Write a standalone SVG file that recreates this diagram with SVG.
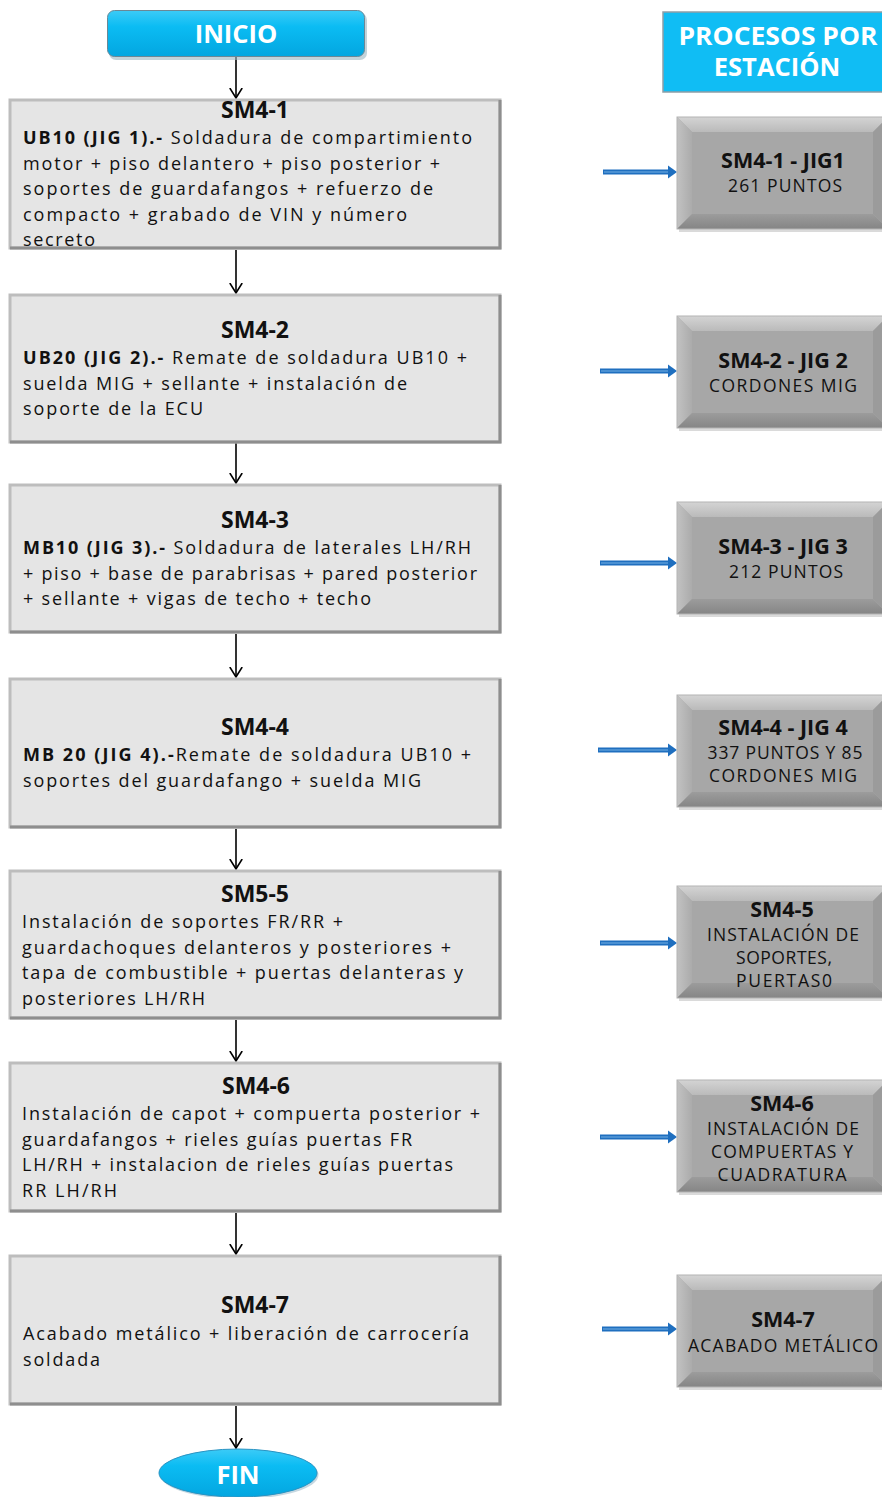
<svg xmlns="http://www.w3.org/2000/svg" xmlns:xlink="http://www.w3.org/1999/xlink" width="882" height="1497" viewBox="0 0 882 1497">
  <defs>
    <style>
      .txt { font-family: "Open Sans", "Liberation Sans", sans-serif; fill: #111; }
      .body { font-size: 18px; }
      .b { font-weight: bold; }
      .ttl { font-size: 23px; font-weight: bold; text-anchor: middle; }
      .rt { font-size: 21.5px; font-weight: bold; text-anchor: middle; }
      .rs { font-size: 17.5px; text-anchor: middle; }
      .cap { font-family: "Open Sans", "Liberation Sans", sans-serif; font-size: 25.5px; font-weight: bold; fill: #fff; text-anchor: middle; }
      .step { fill: #E5E5E5; stroke: #BDBDBD; stroke-width: 3; }
      .stepShade { fill: none; stroke: #8E8E8E; stroke-width: 3; }
      .flow { fill: none; stroke: #000; stroke-width: 1.6; marker-end: url(#vhead); }
      .feed { fill: none; stroke: #1F6FBF; stroke-width: 5; }
      .feedCore { fill: none; stroke: #5A9BD8; stroke-width: 1.6; }
    </style>
    <linearGradient id="cyan" x1="0" y1="0" x2="0" y2="1">
      <stop offset="0" stop-color="#3CCBF7"/>
      <stop offset="0.35" stop-color="#0BBCF3"/>
      <stop offset="1" stop-color="#03A6E0"/>
    </linearGradient>
    <linearGradient id="bevTop" x1="0" y1="0" x2="0" y2="1">
      <stop offset="0" stop-color="#D4D4D4"/>
      <stop offset="1" stop-color="#BABABA"/>
    </linearGradient>
    <linearGradient id="bevLeft" x1="0" y1="0" x2="1" y2="0">
      <stop offset="0" stop-color="#C2C2C2"/>
      <stop offset="1" stop-color="#ABABAB"/>
    </linearGradient>
    <linearGradient id="bevBottom" x1="0" y1="0" x2="0" y2="1">
      <stop offset="0" stop-color="#9C9C9C"/>
      <stop offset="1" stop-color="#858585"/>
    </linearGradient>
    <marker id="vhead" viewBox="0 0 12 14" refX="10.5" refY="7" markerWidth="12" markerHeight="14" markerUnits="userSpaceOnUse" orient="auto">
      <path d="M0.5,0.8 L10.5,7 L0.5,13.2" fill="none" stroke="#000" stroke-width="1.6"/>
    </marker>
    <!-- bevelled station tile, 211 x 112 -->
    <g id="tile">
      <rect x="2" y="3" width="211" height="112" fill="#DADADA"/>
      <rect x="0" y="0" width="211" height="112" fill="#A7A7A7"/>
      <polygon points="0,0 211,0 196,15 15,15" fill="url(#bevTop)"/>
      <polygon points="0,0 15,15 15,97 0,112" fill="url(#bevLeft)"/>
      <polygon points="0,112 15,97 196,97 211,112" fill="url(#bevBottom)"/>
      <polygon points="211,0 211,112 196,97 196,15" fill="#9B9B9B"/>
      <rect x="0" y="0" width="211" height="112" fill="none" stroke="#B4B4B4" stroke-width="1"/>
    </g>
  </defs>

  <rect x="0" y="0" width="882" height="1497" fill="#fff"/>

  <!-- connectors -->
  <g id="connectors">
    <path class="flow" d="M236,57 V98"/>
    <path class="flow" d="M236,250 V293"/>
    <path class="flow" d="M236,443 V483"/>
    <path class="flow" d="M236,634 V677"/>
    <path class="flow" d="M236,829 V869"/>
    <path class="flow" d="M236,1020 V1061"/>
    <path class="flow" d="M236,1213 V1254"/>
    <path class="flow" d="M236,1406 V1448"/>
    <g id="feeds">
      <path class="feed" d="M603,172 H669"/><path class="feedCore" d="M604,172 H668"/><polygon points="668,165.5 677,172 668,178.5" fill="#1F6FBF"/>
      <path class="feed" d="M600,371 H669"/><path class="feedCore" d="M601,371 H668"/><polygon points="668,364.5 677,371 668,377.5" fill="#1F6FBF"/>
      <path class="feed" d="M600,563 H669"/><path class="feedCore" d="M601,563 H668"/><polygon points="668,556.5 677,563 668,569.5" fill="#1F6FBF"/>
      <path class="feed" d="M598,750 H669"/><path class="feedCore" d="M599,750 H668"/><polygon points="668,743.5 677,750 668,756.5" fill="#1F6FBF"/>
      <path class="feed" d="M600,943 H669"/><path class="feedCore" d="M601,943 H668"/><polygon points="668,936.5 677,943 668,949.5" fill="#1F6FBF"/>
      <path class="feed" d="M600,1137 H669"/><path class="feedCore" d="M601,1137 H668"/><polygon points="668,1130.5 677,1137 668,1143.5" fill="#1F6FBF"/>
      <path class="feed" d="M602,1329 H669"/><path class="feedCore" d="M603,1329 H668"/><polygon points="668,1322.5 677,1329 668,1335.5" fill="#1F6FBF"/>
    </g>
  </g>

  <!-- start / end -->
  <g id="inicio">
    <rect x="109" y="13" width="258" height="47" rx="7" fill="#9BB5C2" opacity="0.6"/>
    <rect x="107.5" y="10.5" width="257" height="46" rx="7" fill="url(#cyan)" stroke="#6B8896" stroke-width="1"/>
    <text class="cap" x="236" y="43">INICIO</text>
  </g>

  <g id="procesos-header">
    <rect x="663" y="12" width="230" height="80" fill="#10BDF4" stroke="#8E9EA6" stroke-width="1.5"/>
    <text class="cap" x="778" y="45" textLength="199" lengthAdjust="spacingAndGlyphs">PROCESOS POR</text>
    <text class="cap" x="777" y="76">ESTACIÓN</text>
  </g>

  <g id="fin">
    <ellipse cx="239.5" cy="1475" rx="79" ry="24" fill="#8FB2C4" opacity="0.5"/>
    <ellipse cx="238" cy="1473" rx="79" ry="24" fill="url(#cyan)" stroke="#2A93C2" stroke-width="1"/>
    <text class="cap" x="238" y="1484">FIN</text>
  </g>

  <!-- process steps -->
  <g id="sm4-1">
    <rect class="step" x="10" y="100" width="490" height="148"/>
    <polyline class="stepShade" points="500,100 500,248 10,248"/>
    <text class="txt ttl" x="255" y="118">SM4-1</text>
    <text class="txt body" x="23" y="144" textLength="449" lengthAdjust="spacing"><tspan class="b">UB10 (JIG 1).-</tspan> Soldadura de compartimiento</text>
    <text class="txt body" x="23" y="170" textLength="417" lengthAdjust="spacing">motor + piso delantero + piso posterior +</text>
    <text class="txt body" x="23" y="195" textLength="410" lengthAdjust="spacing">soportes de guardafangos + refuerzo de</text>
    <text class="txt body" x="23" y="221" textLength="384" lengthAdjust="spacing">compacto + grabado de VIN y número</text>
    <text class="txt body" x="23" y="246" textLength="72" lengthAdjust="spacing">secreto</text>
  </g>

  <g id="sm4-2">
    <rect class="step" x="10" y="295" width="490" height="147"/>
    <polyline class="stepShade" points="500,295 500,442 10,442"/>
    <text class="txt ttl" x="255" y="338">SM4-2</text>
    <text class="txt body" x="23" y="364" textLength="444" lengthAdjust="spacing"><tspan class="b">UB20 (JIG 2).-</tspan> Remate de soldadura UB10 +</text>
    <text class="txt body" x="23" y="390" textLength="384" lengthAdjust="spacing">suelda MIG + sellante + instalación de</text>
    <text class="txt body" x="23" y="415" textLength="180" lengthAdjust="spacing">soporte de la ECU</text>
  </g>

  <g id="sm4-3">
    <rect class="step" x="10" y="485" width="490" height="147"/>
    <polyline class="stepShade" points="500,485 500,632 10,632"/>
    <text class="txt ttl" x="255" y="528">SM4-3</text>
    <text class="txt body" x="23" y="554" textLength="448" lengthAdjust="spacing"><tspan class="b">MB10 (JIG 3).-</tspan> Soldadura de laterales LH/RH</text>
    <text class="txt body" x="23" y="580" textLength="454" lengthAdjust="spacing">+ piso + base de parabrisas + pared posterior</text>
    <text class="txt body" x="23" y="605" textLength="348" lengthAdjust="spacing">+ sellante + vigas de techo + techo</text>
  </g>

  <g id="sm4-4">
    <rect class="step" x="10" y="679" width="490" height="148"/>
    <polyline class="stepShade" points="500,679 500,827 10,827"/>
    <text class="txt ttl" x="255" y="735">SM4-4</text>
    <text class="txt body" x="23" y="761" textLength="448" lengthAdjust="spacing"><tspan class="b">MB 20 (JIG 4).-</tspan>Remate de soldadura UB10 +</text>
    <text class="txt body" x="23" y="787" textLength="398" lengthAdjust="spacing">soportes del guardafango + suelda MIG</text>
  </g>

  <g id="sm5-5">
    <rect class="step" x="10" y="871" width="490" height="147"/>
    <polyline class="stepShade" points="500,871 500,1018 10,1018"/>
    <text class="txt ttl" x="255" y="902">SM5-5</text>
    <text class="txt body" x="22" y="928" textLength="321" lengthAdjust="spacing">Instalación de soportes FR/RR +</text>
    <text class="txt body" x="22" y="954" textLength="429" lengthAdjust="spacing">guardachoques delanteros y posteriores +</text>
    <text class="txt body" x="22" y="979" textLength="441" lengthAdjust="spacing">tapa de combustible + puertas delanteras y</text>
    <text class="txt body" x="22" y="1005" textLength="183" lengthAdjust="spacing">posteriores LH/RH</text>
  </g>

  <g id="sm4-6">
    <rect class="step" x="10" y="1063" width="490" height="148"/>
    <polyline class="stepShade" points="500,1063 500,1211 10,1211"/>
    <text class="txt ttl" x="256" y="1094">SM4-6</text>
    <text class="txt body" x="22" y="1120" textLength="458" lengthAdjust="spacing">Instalación de capot + compuerta posterior +</text>
    <text class="txt body" x="22" y="1146" textLength="390" lengthAdjust="spacing">guardafangos + rieles guías puertas FR</text>
    <text class="txt body" x="22" y="1171" textLength="431" lengthAdjust="spacing">LH/RH + instalacion de rieles guías puertas</text>
    <text class="txt body" x="22" y="1197" textLength="95" lengthAdjust="spacing">RR LH/RH</text>
  </g>

  <g id="sm4-7">
    <rect class="step" x="10" y="1256" width="490" height="148"/>
    <polyline class="stepShade" points="500,1256 500,1404 10,1404"/>
    <text class="txt ttl" x="255" y="1313">SM4-7</text>
    <text class="txt body" x="23" y="1340" textLength="446" lengthAdjust="spacing">Acabado metálico + liberación de carrocería</text>
    <text class="txt body" x="23" y="1366" textLength="77" lengthAdjust="spacing">soldada</text>
  </g>

  <!-- station tiles -->
  <g id="st-1">
    <use xlink:href="#tile" x="677" y="117"/>
    <text class="txt rt" x="783" y="168">SM4-1 - JIG1</text>
    <text class="txt rs" x="785" y="192" textLength="114" lengthAdjust="spacing">261 PUNTOS</text>
  </g>
  <g id="st-2">
    <use xlink:href="#tile" x="677" y="316"/>
    <text class="txt rt" x="783" y="368">SM4-2 - JIG 2</text>
    <text class="txt rs" x="783" y="392" textLength="148" lengthAdjust="spacing">CORDONES MIG</text>
  </g>
  <g id="st-3">
    <use xlink:href="#tile" x="677" y="502"/>
    <text class="txt rt" x="783" y="554">SM4-3 - JIG 3</text>
    <text class="txt rs" x="786" y="578" textLength="114" lengthAdjust="spacing">212 PUNTOS</text>
  </g>
  <g id="st-4">
    <use xlink:href="#tile" x="677" y="695"/>
    <text class="txt rt" x="783" y="735">SM4-4 - JIG 4</text>
    <text class="txt rs" x="785" y="759" textLength="155" lengthAdjust="spacing">337 PUNTOS Y 85</text>
    <text class="txt rs" x="783" y="782" textLength="148" lengthAdjust="spacing">CORDONES MIG</text>
  </g>
  <g id="st-5">
    <use xlink:href="#tile" x="677" y="886"/>
    <text class="txt rt" x="782" y="917">SM4-5</text>
    <text class="txt rs" x="783" y="941" textLength="152" lengthAdjust="spacing">INSTALACIÓN DE</text>
    <text class="txt rs" x="784" y="964" textLength="96" lengthAdjust="spacing">SOPORTES,</text>
    <text class="txt rs" x="784" y="987" textLength="96" lengthAdjust="spacing">PUERTAS0</text>
  </g>
  <g id="st-6">
    <use xlink:href="#tile" x="677" y="1080"/>
    <text class="txt rt" x="782" y="1111">SM4-6</text>
    <text class="txt rs" x="783" y="1135" textLength="152" lengthAdjust="spacing">INSTALACIÓN DE</text>
    <text class="txt rs" x="782" y="1158" textLength="142" lengthAdjust="spacing">COMPUERTAS Y</text>
    <text class="txt rs" x="782" y="1181" textLength="129" lengthAdjust="spacing">CUADRATURA</text>
  </g>
  <g id="st-7">
    <use xlink:href="#tile" x="677" y="1275"/>
    <text class="txt rt" x="783" y="1327">SM4-7</text>
    <text class="txt rs" x="783" y="1352" textLength="190" lengthAdjust="spacing">ACABADO METÁLICO</text>
  </g>
</svg>
